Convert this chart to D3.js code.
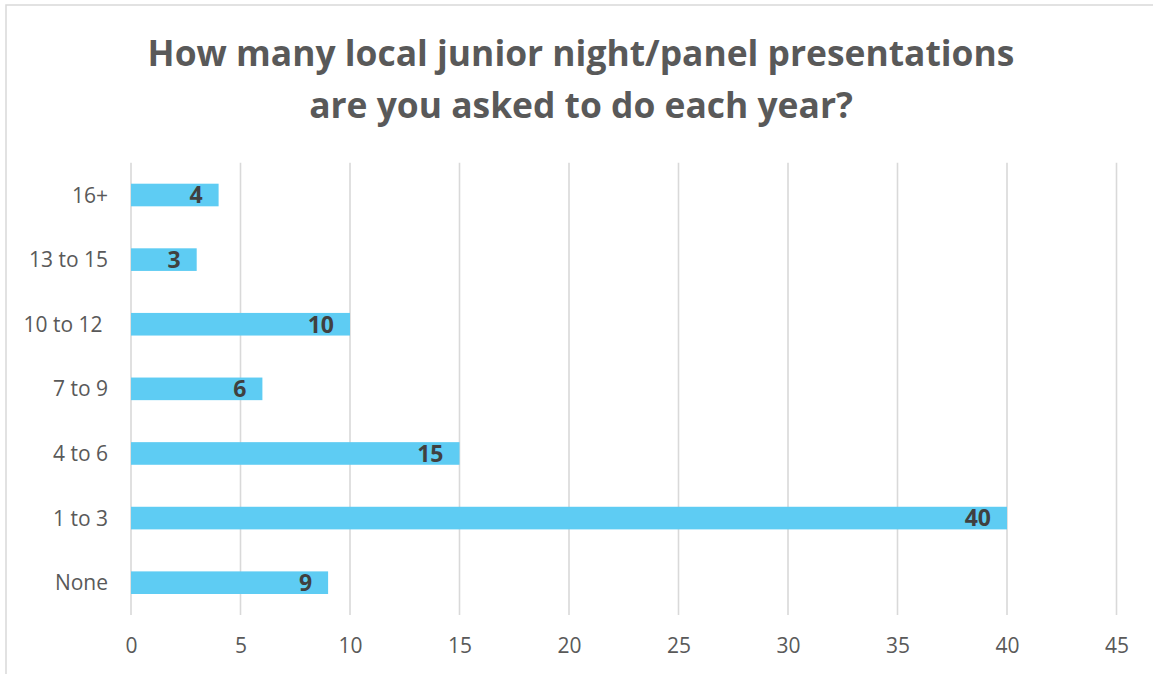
<!DOCTYPE html>
<html><head><meta charset="utf-8">
<script src="https://cdn.jsdelivr.net/npm/d3@7/dist/d3.min.js"></script>
<style>
body{margin:0;background:#fff;}
svg{display:block;font-family:"Open Sans",sans-serif;}
</style></head>
<body>
<svg id="c" width="1153" height="674"></svg>
<script>
const categories = ["16+", "13 to 15", "10 to 12 ", "7 to 9", "4 to 6", "1 to 3", "None"];
const values = [4, 3, 10, 6, 15, 40, 9];
const tickValues = [0, 5, 10, 15, 20, 25, 30, 35, 40, 45];
const titleLines = ["How many local junior night/panel presentations", "are you asked to do each year?"];

const svg = d3.select("#c");
svg.append("rect").attr("x", 6).attr("y", 5).attr("width", 1160).attr("height", 700)
  .attr("fill", "#fff").attr("stroke", "#d9d9d9").attr("stroke-width", 1.5);

const x = d3.scaleLinear().domain([0, 45]).range([131, 1116.5]);
const y = d3.scaleBand().domain(categories).range([162.7, 615]).paddingInner(0.65).paddingOuter(0.325);

// gridlines
svg.append("g").selectAll("line").data(tickValues).join("line")
  .attr("x1", d => x(d)).attr("x2", d => x(d))
  .attr("y1", 162.7).attr("y2", 615)
  .attr("stroke", "#d9d9d9").attr("stroke-width", 1.6);

// title
svg.append("g").selectAll("text").data(titleLines).join("text")
  .attr("x", 581).attr("y", (d, i) => 66 + i * 52)
  .attr("text-anchor", "middle").attr("font-size", 35.4).attr("font-weight", "bold")
  .attr("fill", "#595959").text(d => d);

// bars
svg.append("g").selectAll("rect").data(values).join("rect")
  .attr("x", x(0)).attr("y", (d, i) => y(categories[i]))
  .attr("width", d => x(d) - x(0)).attr("height", y.bandwidth())
  .attr("fill", "#5ECCF3");

// data labels
svg.append("g").selectAll("text").data(values).join("text")
  .attr("x", d => x(d) - 16).attr("y", (d, i) => y(categories[i]) + y.bandwidth() / 2)
  .attr("dy", "0.36em").attr("text-anchor", "end")
  .attr("font-size", 23).attr("font-weight", "bold").attr("fill", "#404040")
  .text(d => d);

// y axis labels
const yAxis = d3.axisLeft(y).tickSize(0).tickPadding(0);
const gy = svg.append("g").attr("transform", "translate(108,0)").call(yAxis);
gy.select(".domain").remove();
gy.selectAll("text").attr("font-size", 21).attr("fill", "#595959")
  .attr("font-family", "Open Sans").style("white-space", "pre").attr("dy", "0.36em");

// x axis labels
const xAxis = d3.axisBottom(x).tickValues(tickValues).tickSize(0).tickPadding(0);
const gx = svg.append("g").attr("transform", "translate(0,638)").call(xAxis);
gx.select(".domain").remove();
gx.selectAll("text").attr("font-size", 21).attr("fill", "#595959")
  .attr("font-family", "Open Sans").attr("dy", "0.71em");
</script>
</body></html>
